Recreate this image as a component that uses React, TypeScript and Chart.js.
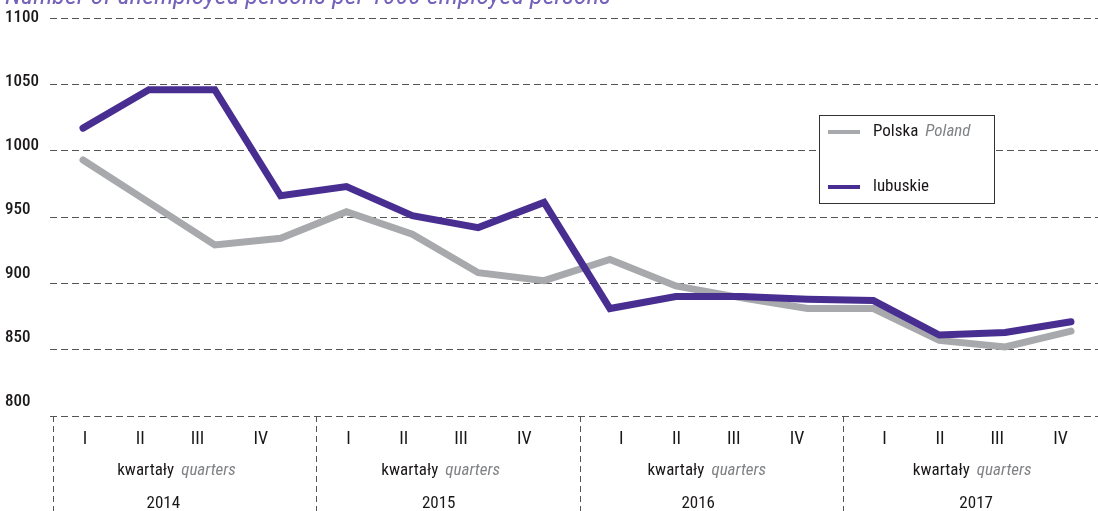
import React, { useEffect, useRef } from "react";
import { Chart, registerables } from "chart.js";

Chart.register(...registerables);

const quarters = ["I", "II", "III", "IV"];
const years = ["2014", "2015", "2016", "2017"];
const groupLabelPl = "kwartały";
const groupLabelEn = "quarters";
const titleText = "Number of unemployed persons per 1000 employed persons";

const polska = [993, 961, 929, 934, 954, 937, 908, 902, 918, 898, 889, 881, 881, 857, 852, 864];
const lubuskie = [1017, 1046, 1046, 966, 973, 951, 942, 961, 881, 890, 890, 888, 887, 861, 863, 871];

const seriesNamesPl = ["Polska", "lubuskie"];
const seriesNamesEn = ["Poland", ""];
const yTicks = [1100, 1050, 1000, 950, 900, 850, 800];

const GREY = "#a7a9ac";
const PURPLE = "#482e91";
const GRID = "#555555";
const TEXT = "#1a1718";
const FONT = "'Roboto Condensed', 'Liberation Sans Narrow', 'DejaVu Sans Condensed', sans-serif";

const xAxisPlugin = {
  id: "customXAxis",
  afterDraw(chart: any) {
    const { ctx, scales, chartArea } = chart;
    const x = scales.x;
    const H = chart.height;
    ctx.save();
    ctx.strokeStyle = GRID;
    ctx.lineWidth = 1;
    ctx.setLineDash([6, 4]);
    years.forEach((_, g) => {
      const px = Math.round(x.getPixelForValue(g * 4 - 0.46)) + 0.5;
      ctx.beginPath();
      ctx.moveTo(px, chartArea.bottom);
      ctx.lineTo(px, H);
      ctx.stroke();
    });
    ctx.setLineDash([]);
    const qOff = [0.03, 0.87, 1.74, 2.7];
    const gShift = [0, 0, 0.14, 0.14];
    const yearOff = [1.22, 1.4, 1.34, 1.56];
    const groupOff = [1.42, 1.43, 1.47, 1.5];
    ctx.textBaseline = "middle";
    years.forEach((yr, g) => {
      ctx.textAlign = "center";
      ctx.font = `18px ${FONT}`;
      ctx.fillStyle = TEXT;
      quarters.forEach((q, i) => {
        const px = x.getPixelForValue(g * 4 + qOff[i] + gShift[g]);
        ctx.fillText(q, px, chartArea.bottom + 23);
      });
      const cx = x.getPixelForValue(g * 4 + groupOff[g]);
      ctx.font = `17px ${FONT}`;
      const w1 = ctx.measureText(groupLabelPl).width;
      ctx.font = `italic 17px ${FONT}`;
      const w2 = ctx.measureText(groupLabelEn).width;
      const gap = 7;
      const start = cx - (w1 + gap + w2) / 2;
      ctx.textAlign = "left";
      ctx.font = `17px ${FONT}`;
      ctx.fillStyle = TEXT;
      ctx.fillText(groupLabelPl, start, chartArea.bottom + 55);
      ctx.font = `italic 17px ${FONT}`;
      ctx.fillStyle = "#808285";
      ctx.fillText(groupLabelEn, start + w1 + gap, chartArea.bottom + 55);
      ctx.textAlign = "center";
      ctx.font = `17px ${FONT}`;
      ctx.fillStyle = TEXT;
      ctx.fillText(yr, x.getPixelForValue(g * 4 + yearOff[g]), chartArea.bottom + 88);
    });
    ctx.restore();
  },
};

const titlePlugin = {
  id: "clippedTitle",
  afterDraw(chart: any) {
    const { ctx } = chart;
    ctx.save();
    ctx.font = `italic 20px ${FONT}`;
    const w = ctx.measureText(titleText).width;
    const size = (20 * 605) / w;
    ctx.font = `italic ${size.toFixed(1)}px ${FONT}`;
    ctx.fillStyle = "#7462bb";
    ctx.textAlign = "left";
    ctx.textBaseline = "alphabetic";
    ctx.fillText(titleText, 5, 4);
    ctx.restore();
  },
};

const legendPlugin = {
  id: "boxLegend",
  afterDraw(chart: any) {
    const { ctx } = chart;
    const L = 819, T = 115, R = 994, B = 203;
    ctx.save();
    ctx.fillStyle = "#ffffff";
    ctx.fillRect(L, T, R - L, B - T);
    ctx.strokeStyle = "#333333";
    ctx.lineWidth = 1;
    ctx.strokeRect(L + 0.5, T + 0.5, R - L, B - T);
    const rows = [132, 187];
    const colors = [GREY, PURPLE];
    seriesNamesPl.forEach((name, i) => {
      const y = rows[i];
      ctx.strokeStyle = colors[i];
      ctx.lineWidth = 4;
      ctx.beginPath();
      ctx.moveTo(828, y);
      ctx.lineTo(860, y);
      ctx.stroke();
      ctx.textBaseline = "middle";
      ctx.textAlign = "left";
      ctx.font = `17px ${FONT}`;
      ctx.fillStyle = TEXT;
      ctx.fillText(name, 873, y);
      if (seriesNamesEn[i]) {
        const w = ctx.measureText(name).width;
        ctx.font = `italic 17px ${FONT}`;
        ctx.fillStyle = "#808285";
        ctx.fillText(seriesNamesEn[i], 873 + w + 7, y);
      }
    });
    ctx.restore();
  },
};

export default function App() {
  const ref = useRef<HTMLCanvasElement | null>(null);
  useEffect(() => {
    document.body.style.margin = "0";
    const labels = polska.map((_, i) => `${quarters[i % 4]} ${years[Math.floor(i / 4)]}`);
    const chart = new Chart(ref.current as HTMLCanvasElement, {
      type: "line",
      data: {
        labels,
        datasets: [
          {
            label: seriesNamesPl[1],
            data: lubuskie.map((v, i) => ({ x: i, y: v })),
            yAxisID: "y",
            xAxisID: "x",
            borderColor: PURPLE,
            backgroundColor: PURPLE,
            borderWidth: 7,
            pointRadius: 0,
            borderCapStyle: "round",
            borderJoinStyle: "miter",
            tension: 0,
            order: 0,
          },
          {
            label: seriesNamesPl[0],
            data: polska.map((v, i) => ({ x: i, y: v })),
            yAxisID: "y",
            xAxisID: "x",
            borderColor: GREY,
            backgroundColor: GREY,
            borderWidth: 7,
            pointRadius: 0,
            borderCapStyle: "round",
            borderJoinStyle: "miter",
            tension: 0,
            order: 1,
          },
        ],
      },
      options: {
        responsive: false,
        animation: false,
        layout: { padding: { left: 5, top: 18, right: 0, bottom: 95 } },
        plugins: { legend: { display: false }, tooltip: { enabled: false }, title: { display: false } },
        scales: {
          x: {
            type: "linear",
            min: -0.501,
            max: 15.41,
            display: false,
          },
          yl: {
            type: "linear",
            position: "left",
            min: 789.06,
            max: 1100,
            afterBuildTicks: (scale: any) => {
              scale.ticks = yTicks.map((v) => ({ value: v }));
            },
            afterFit: (scale: any) => {
              scale.width = 45;
            },
            grid: { display: false, drawTicks: false },
            border: { display: false },
            ticks: {
              crossAlign: "far",
              padding: 0,
              color: TEXT,
              font: { family: FONT, size: 17, weight: "500" },
              callback: (v: any) => String(v),
            },
          },
          y: {
            type: "linear",
            position: "left",
            min: 800,
            max: 1100,
            ticks: { display: false, stepSize: 50 },
            afterFit: (scale: any) => {
              scale.width = 0;
            },
            grid: { color: GRID, lineWidth: 1, drawTicks: false, tickLength: 0 },
            border: { display: false, dash: [7, 4] },
          },
        },
      },
      plugins: [xAxisPlugin, titlePlugin, legendPlugin],
    } as any);
    return () => chart.destroy();
  }, []);
  return (
    <canvas
      ref={ref}
      width={1098}
      height={511}
      style={{ display: "block", width: 1098, height: 511 }}
    />
  );
}
